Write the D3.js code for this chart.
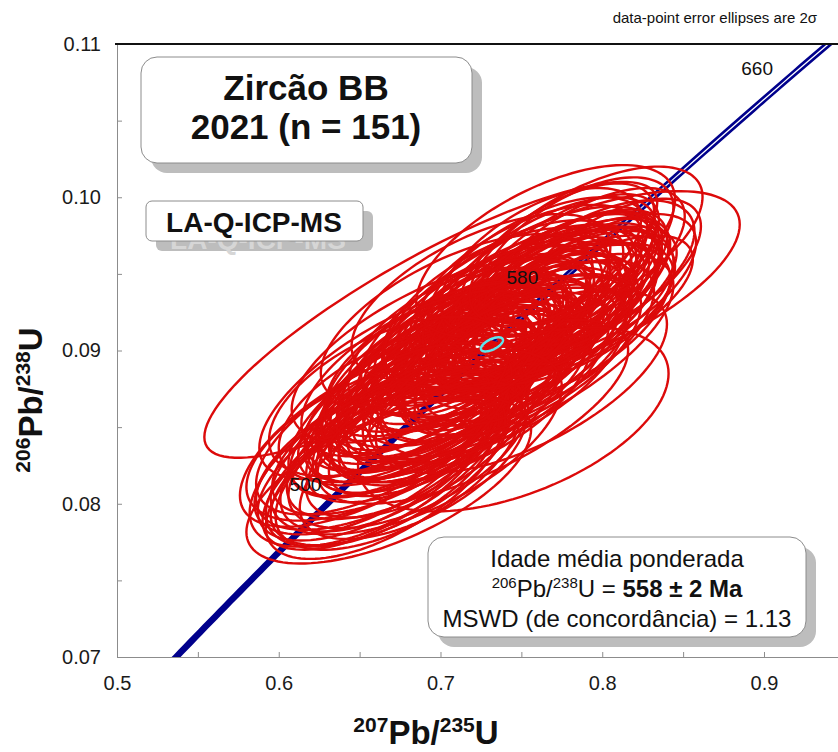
<!DOCTYPE html>
<html>
<head>
<meta charset="utf-8">
<script src="https://cdn.jsdelivr.net/npm/d3@7"></script>
<style>
  body { margin: 0; background: #fff; }
  svg { display: block; font-family: Arial, "Liberation Sans", sans-serif; }
</style>
</head>
<body>
<script>
var width = 838,
    height = 752;

// spot analyses: 207Pb/235U, 206Pb/238U, 1 sigma abs errors, error correlation
var r75 = [
  .731,.742,.718,.755,.706,.768,.724,.737,.749,.712,
  .697,.760,.726,.744,.733,.689,.775,.716,.752,.703,
  .739,.721,.764,.694,.746,.729,.782,.710,.757,.735,
  .684,.771,.719,.741,.700,.750,.727,.762,.691,.738,
  .733,.740,.725,.748,.719,.756,.736,.729,.705,.778,
  .714,.745,.722,.766,.698,.753,.732,.687,.773,.717,
  .759,.708,.743,.780,.695,.728,.769,.711,.751,.680,
  .677,.684,.670,.688,.673,.695,.662,.681,.702,.667,
  .690,.659,.676,.685,.664,.698,.655,.680,.669,.693,
  .664,.674,.687,.660,.705,.672,.662,.683,.666,.656,
  .774,.781,.767,.786,.777,.793,.764,.783,.772,.798,
  .760,.789,.778,.803,.769,.784,.755,.796,.775,.762,
  .702,.734,.758,.715,.747,.723,.763,.696,.739,.770,
  .707,.754,.688,.730,.761,.694,.660,.668,.680,.775,
  .765,.750,.740,.700,.720,.745,.710,.685,.790,.668,
  .725];
var r68 = [
  .0903,.0911,.0895,.0921,.0889,.0928,.0908,.0899,.0915,.0884,
  .0880,.0930,.0894,.0906,.0915,.0872,.0936,.0901,.0908,.0895,
  .0924,.0886,.0918,.0883,.0897,.0912,.0941,.0876,.0934,.0892,
  .0866,.0925,.0910,.0918,.0878,.0926,.0889,.0912,.0890,.0905,
  .0906,.0900,.0899,.0912,.0893,.0917,.0909,.0896,.0871,.0930,
  .0905,.0930,.0878,.0938,.0868,.0902,.0921,.0879,.0945,.0883,
  .0924,.0898,.0893,.0948,.0875,.0917,.0931,.0892,.0919,.0861,
  .0852,.0860,.0843,.0866,.0838,.0855,.0835,.0847,.0862,.0832,
  .0871,.0828,.0858,.0839,.0849,.0874,.0830,.0834,.0825,.0849,
  .0824,.0826,.0853,.0822,.0858,.0864,.0830,.0827,.0820,.0841,
  .0935,.0944,.0952,.0939,.0956,.0950,.0922,.0929,.0961,.0943,
  .0950,.0958,.0924,.0953,.0944,.0965,.0945,.0933,.0949,.0958,
  .0886,.0928,.0905,.0870,.0937,.0916,.0940,.0893,.0887,.0917,
  .0906,.0896,.0885,.0882,.0927,.0920,.0845,.0815,.0880,.0940,
  .0965,.0880,.0895,.0900,.0860,.0855,.0920,.0840,.0968,.0870,
  .0935];
var s75 = [
  .031,.030,.033,.030,.035,.029,.027,.032,.034,.030,
  .037,.031,.025,.035,.030,.033,.030,.029,.031,.032,
  .033,.030,.028,.031,.036,.026,.030,.034,.032,.029,
  .036,.031,.030,.027,.030,.034,.032,.030,.031,.024,
  .014,.016,.013,.017,.017,.018,.019,.015,.037,.033,
  .031,.030,.035,.029,.033,.032,.034,.030,.031,.036,
  .026,.030,.033,.030,.035,.031,.034,.028,.030,.037,
  .035,.033,.037,.031,.034,.036,.038,.032,.035,.033,
  .037,.036,.030,.034,.039,.032,.035,.037,.037,.031,
  .036,.038,.033,.035,.034,.036,.040,.035,.037,.038,
  .031,.030,.033,.030,.029,.032,.035,.031,.030,.030,
  .034,.031,.033,.029,.032,.030,.035,.030,.028,.031,
  .038,.035,.037,.039,.033,.036,.037,.034,.038,.036,
  .032,.035,.037,.037,.034,.070,.042,.044,.046,.055,
  .040,.045,.052,.046,.048,.048,.042,.045,.036,.037,
  .040];
var s68 = [
  .0023,.0022,.0024,.0023,.0026,.0022,.0020,.0024,.0024,.0023,
  .0027,.0022,.0019,.0026,.0023,.0026,.0022,.0022,.0023,.0024,
  .0024,.0023,.0022,.0024,.0026,.0020,.0023,.0026,.0024,.0022,
  .0027,.0023,.0022,.0020,.0024,.0026,.0024,.0023,.0023,.0018,
  .0011,.0012,.0011,.0012,.0013,.0014,.0015,.0012,.0027,.0024,
  .0023,.0023,.0026,.0022,.0026,.0024,.0024,.0023,.0023,.0027,
  .0020,.0023,.0024,.0022,.0027,.0023,.0026,.0022,.0023,.0028,
  .0024,.0023,.0025,.0022,.0024,.0024,.0026,.0023,.0024,.0025,
  .0025,.0026,.0022,.0024,.0028,.0023,.0025,.0025,.0026,.0022,
  .0026,.0028,.0023,.0026,.0023,.0025,.0029,.0025,.0028,.0026,
  .0023,.0021,.0024,.0021,.0023,.0024,.0024,.0023,.0024,.0023,
  .0025,.0024,.0023,.0023,.0023,.0024,.0025,.0021,.0020,.0024,
  .0028,.0026,.0027,.0028,.0024,.0026,.0027,.0026,.0028,.0026,
  .0024,.0026,.0027,.0028,.0026,.0045,.0030,.0027,.0032,.0032,
  .0028,.0030,.0034,.0030,.0030,.0030,.0028,.0030,.0026,.0026,
  .0027];
var rho = [
  .61,.57,.63,.55,.59,.60,.65,.53,.62,.58,
  .64,.56,.61,.67,.54,.60,.59,.63,.57,.62,
  .58,.55,.64,.61,.59,.57,.62,.65,.56,.60,
  .63,.58,.54,.66,.59,.61,.57,.63,.55,.60,
  .59,.55,.62,.57,.61,.58,.63,.56,.62,.59,
  .64,.55,.60,.57,.63,.61,.58,.60,.62,.57,
  .65,.56,.63,.60,.58,.61,.64,.59,.55,.62,
  .61,.58,.63,.60,.57,.64,.61,.59,.62,.58,
  .60,.63,.56,.61,.64,.59,.60,.57,.62,.63,
  .59,.61,.58,.64,.60,.55,.62,.59,.63,.58,
  .60,.57,.62,.59,.64,.58,.61,.56,.63,.60,
  .59,.62,.58,.61,.65,.59,.57,.63,.60,.58,
  .61,.59,.63,.60,.57,.62,.59,.64,.61,.58,
  .56,.65,.60,.62,.59,.85,.66,.62,.68,.66,
  .60,.62,.70,.64,.67,.50,.62,.60,.62,.55,
  .60];

// concordia age (weighted mean) ellipse: x, y, sx, sy, rho
var meanPoint = [0.7318, 0.09040, 0.0034, 0.00023, 0.6];

var xTickLabels = ["0.5", "0.6", "0.7", "0.8", "0.9"];
var yTickLabels = ["0.07", "0.08", "0.09", "0.10", "0.11"];
var ageLabels = [500, 580, 660];   // Ma

var L238 = 1.55125e-10,
    L235 = 9.8485e-10;

var x = d3.scaleLinear().domain([0.5, 0.94575]).range([117, 838]);
var y = d3.scaleLinear().domain([0.07, 0.11]).range([657, 44]);

var svg = d3.select("body").append("svg")
    .attr("width", width)
    .attr("height", height);

var defs = svg.append("defs");
defs.append("clipPath").attr("id", "plotclip")
  .append("rect")
    .attr("x", 117).attr("y", 44)
    .attr("width", width - 117).attr("height", 657 - 44);

// white core of the concordia band, shows up toward older ages
var grad = defs.append("linearGradient")
    .attr("id", "band")
    .attr("gradientUnits", "userSpaceOnUse")
    .attr("x1", x(0.70)).attr("y1", y(0.087))
    .attr("x2", x(0.86)).attr("y2", y(0.102));
grad.append("stop").attr("offset", 0).attr("stop-color", "#fff").attr("stop-opacity", 0);
grad.append("stop").attr("offset", 1).attr("stop-color", "#fff").attr("stop-opacity", 1);

function concordia(t) {
  return [Math.exp(L235 * t * 1e6) - 1, Math.exp(L238 * t * 1e6) - 1];
}

var line = d3.line()
    .x(function(d) { return x(d[0]); })
    .y(function(d) { return y(d[1]); });

var g = svg.append("g").attr("clip-path", "url(#plotclip)");

var curve = d3.range(420, 700, 2).map(concordia);
g.append("path")
    .attr("d", line(curve))
    .attr("fill", "none")
    .attr("stroke", "#00008c")
    .attr("stroke-width", 6.5);
g.append("path")
    .attr("d", line(curve))
    .attr("fill", "none")
    .attr("stroke", "url(#band)")
    .attr("stroke-width", 1.3);

// error ellipses, 2 sigma
var thetas = d3.range(0, 2 * Math.PI, Math.PI / 60);
var ellLine = d3.line()
    .x(function(d) { return x(d[0]); })
    .y(function(d) { return y(d[1]); })
    .curve(d3.curveLinearClosed);

function ellipse(cx, cy, sx, sy, r) {
  var q = Math.sqrt(1 - r * r);
  return ellLine(thetas.map(function(t) {
    return [cx + 2 * sx * Math.cos(t),
            cy + 2 * sy * (r * Math.cos(t) + q * Math.sin(t))];
  }));
}

g.selectAll("path.spot")
    .data(d3.range(r75.length))
    .enter().append("path")
    .attr("class", "spot")
    .attr("d", function(i) { return ellipse(r75[i], r68[i], s75[i], s68[i], rho[i]); })
    .attr("fill", "none")
    .attr("stroke", "#dc0a0a")
    .attr("stroke-width", 2.4);

g.append("path")
    .attr("d", ellipse(meanPoint[0], meanPoint[1], meanPoint[2], meanPoint[3], meanPoint[4]))
    .attr("fill", "none")
    .attr("stroke", "#5ee6ee")
    .attr("stroke-width", 2.5);

// age labels on concordia
svg.selectAll("text.age")
    .data(ageLabels)
    .enter().append("text")
    .attr("class", "age")
    .attr("x", function(d) { return x(concordia(d)[0]) - 32; })
    .attr("y", function(d) { return y(concordia(d)[1]) - 3; })
    .attr("text-anchor", "middle")
    .style("font-size", "19px")
    .style("fill", "#111")
    .text(function(d) { return d; });

// axes
var yAxis = d3.axisLeft(y)
    .tickValues(d3.range(0, 9).map(function(i) { return 0.07 + i * 0.005; }))
    .tickSizeInner(-5).tickSizeOuter(0).tickPadding(16)
    .tickFormat(function(d, i) { return i % 2 ? "" : yTickLabels[i / 2]; });
var xAxis = d3.axisBottom(x)
    .tickValues(d3.range(0, 9).map(function(i) { return 0.5 + i * 0.05; }))
    .tickSizeInner(-5).tickSizeOuter(0).tickPadding(19)
    .tickFormat(function(d, i) { return i % 2 ? "" : xTickLabels[i / 2]; });

var ya = svg.append("g").attr("transform", "translate(117,0)").call(yAxis);
var xa = svg.append("g").attr("transform", "translate(0,657)").call(xAxis);
[ya, xa].forEach(function(a) {
  a.select(".domain").attr("stroke", "#8c8c8c");
  a.selectAll(".tick line").attr("stroke", "#8c8c8c");
  a.selectAll(".tick text")
      .style("font-size", "20px")
      .style("font-family", "Arial, 'Liberation Sans', sans-serif")
      .attr("fill", "#1a1a1a");
});

svg.append("line")
    .attr("x1", 115).attr("x2", width)
    .attr("y1", 44).attr("y2", 44)
    .attr("stroke", "#111")
    .attr("stroke-width", 2);

// axis titles
var xt = svg.append("text")
    .attr("x", 426).attr("y", 744)
    .attr("text-anchor", "middle")
    .style("font-weight", "bold")
    .style("font-size", "33px")
    .attr("fill", "#111");
xt.append("tspan").attr("dy", -12).style("font-size", "21px").text("207");
xt.append("tspan").attr("dy", 12).text("Pb/");
xt.append("tspan").attr("dy", -12).style("font-size", "21px").text("235");
xt.append("tspan").attr("dy", 12).text("U");

var yt = svg.append("text")
    .attr("transform", "translate(42,400) rotate(-90)")
    .attr("text-anchor", "middle")
    .style("font-weight", "bold")
    .style("font-size", "33px")
    .attr("fill", "#111");
yt.append("tspan").attr("dy", -12).style("font-size", "21px").text("206");
yt.append("tspan").attr("dy", 12).text("Pb/");
yt.append("tspan").attr("dy", -12).style("font-size", "21px").text("238");
yt.append("tspan").attr("dy", 12).text("U");

svg.append("text")
    .attr("x", 817).attr("y", 23)
    .attr("text-anchor", "end")
    .style("font-size", "15px")
    .attr("fill", "#111")
    .text("data-point error ellipses are 2\u03c3");

// boxes with shadows
function box(x0, y0, w, h, r) {
  svg.append("rect")
      .attr("x", x0 + 10).attr("y", y0 + 10)
      .attr("width", w).attr("height", h)
      .attr("rx", r).attr("ry", r)
      .attr("fill", "#bdbdbd");
}
function boxFace(x0, y0, w, h, r) {
  svg.append("rect")
      .attr("x", x0).attr("y", y0)
      .attr("width", w).attr("height", h)
      .attr("rx", r).attr("ry", r)
      .attr("fill", "#fff")
      .attr("stroke", "#8c8c8c")
      .attr("stroke-width", 1);
}

box(141, 57, 331, 106, 16);
boxFace(141, 57, 331, 106, 16);
svg.append("text")
    .attr("x", 306).attr("y", 100)
    .attr("text-anchor", "middle")
    .style("font-weight", "bold").style("font-size", "35px")
    .attr("fill", "#111")
    .text("Zirc\u00e3o BB");
svg.append("text")
    .attr("x", 306).attr("y", 139)
    .attr("text-anchor", "middle")
    .style("font-weight", "bold").style("font-size", "35px")
    .attr("fill", "#111")
    .text("2021 (n = 151)");

box(146, 201, 217, 40, 6);
svg.append("text")
    .attr("x", 258).attr("y", 249)
    .attr("text-anchor", "middle")
    .style("font-weight", "bold").style("font-size", "28px")
    .attr("fill", "#d6d6d6")
    .text("LA-Q-ICP-MS");
boxFace(146, 201, 217, 40, 6);
svg.append("text")
    .attr("x", 254).attr("y", 232)
    .attr("text-anchor", "middle")
    .style("font-weight", "bold").style("font-size", "28px")
    .attr("fill", "#111")
    .text("LA-Q-ICP-MS");

box(428, 537, 378, 100, 16);
boxFace(428, 537, 378, 100, 16);
svg.append("text")
    .attr("x", 617).attr("y", 567)
    .attr("text-anchor", "middle")
    .style("font-size", "24px")
    .attr("fill", "#111")
    .text("Idade m\u00e9dia ponderada");
var l2 = svg.append("text")
    .attr("x", 617).attr("y", 597)
    .attr("text-anchor", "middle")
    .style("font-size", "24px")
    .attr("fill", "#111");
l2.append("tspan").attr("dy", -9).style("font-size", "15px").text("206");
l2.append("tspan").attr("dy", 9).text("Pb/");
l2.append("tspan").attr("dy", -9).style("font-size", "15px").text("238");
l2.append("tspan").attr("dy", 9).text("U = ");
l2.append("tspan").style("font-weight", "bold").text("558 \u00b1 2 Ma");
svg.append("text")
    .attr("x", 617).attr("y", 627)
    .attr("text-anchor", "middle")
    .style("font-size", "24px")
    .attr("fill", "#111")
    .text("MSWD (de concord\u00e2ncia) = 1.13");
</script>
</body>
</html>
